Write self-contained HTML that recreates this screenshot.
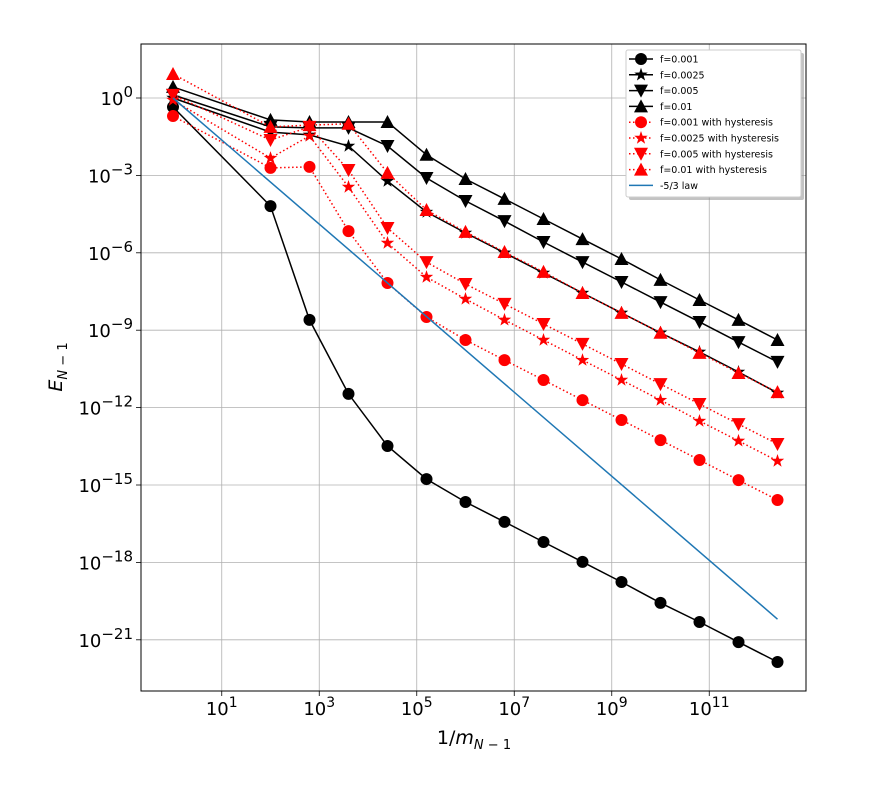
<!DOCTYPE html>
<html><head><meta charset="utf-8"><style>
html,body{margin:0;padding:0;background:#fff;}
svg{display:block;font-family:"DejaVu Sans","Liberation Sans",sans-serif;}
</style></head><body>
<svg id="chart" width="884" height="788" viewBox="0 0 884 788"></svg>
<script>
// log10 of 1/m values
const xLogs = [0, 2, 2.8, 3.6, 4.4, 5.2, 6.0, 6.8, 7.6, 8.4, 9.2, 10.0, 10.8, 11.6, 12.4];
// log10 of E values
const f001 = [-0.35, -4.19, -8.6, -11.47, -13.49, -14.77, -15.66, -16.43, -17.21, -17.98, -18.76, -19.57, -20.31, -21.09, -21.86];
const f0025 = [0, -1.32, -1.43, -1.86, -3.22, -4.42, -5.23, -6.0, -6.78, -7.56, -8.33, -9.1, -9.84, -10.62, -11.43];
const f005 = [0.12, -1.12, -1.16, -1.16, -1.86, -3.1, -3.99, -4.77, -5.58, -6.36, -7.13, -7.91, -8.68, -9.46, -10.23];
const f01 = [0.43, -0.85, -0.93, -0.93, -0.93, -2.2, -3.14, -3.91, -4.69, -5.47, -6.24, -7.05, -7.83, -8.6, -9.38];
const h001 = [-0.7, -2.71, -2.67, -5.16, -7.17, -8.49, -9.38, -10.16, -10.93, -11.71, -12.48, -13.26, -14.03, -14.81, -15.58];
const h0025 = [-0.08, -2.33, -1.47, -3.45, -5.62, -6.94, -7.79, -8.6, -9.38, -10.16, -10.93, -11.71, -12.52, -13.29, -14.07];
const h005 = [0.12, -1.63, -1.12, -2.79, -5.04, -6.36, -7.21, -7.98, -8.76, -9.53, -10.31, -11.09, -11.86, -12.64, -13.41];
const h01 = [0.93, -1.12, -1.05, -1.0, -2.9, -4.34, -5.19, -5.97, -6.74, -7.56, -8.33, -9.1, -9.88, -10.66, -11.4];
const lawX = [0, 12.4];
const lawY = [0, -20.2];
const xTicks = [1, 3, 5, 7, 9, 11];
const yTicks = [0, -3, -6, -9, -12, -15, -18, -21];

const svg = document.getElementById('chart');
const NS = 'http://www.w3.org/2000/svg';
const L = 141, R = 806, T = 44, B = 691;
const X = v => 173 + v * 48.75;
const Y = v => 98 - v * 25.8;
function mk(tag, attrs, parent) {
  const e = document.createElementNS(NS, tag);
  for (const k in attrs) e.setAttribute(k, attrs[k]);
  (parent || svg).appendChild(e);
  return e;
}
const sup = t => String(t).replace('-', '−');
// grid
xTicks.forEach(t => {
  const g = mk('line', {x1: X(t), x2: X(t), y1: T, y2: B, stroke: '#b0b0b0', 'stroke-width': 0.8});
  
  
  const tk = mk('line', {x1: X(t), x2: X(t), y1: B, y2: B + 5, stroke: '#000', 'stroke-width': 0.8});
  
  
  const tx = mk('text', {x: X(t), y: B + 24, 'font-size': 18, 'text-anchor': 'middle'});
  
  
  tx.innerHTML = '10<tspan dy="-8" font-size="14">' + sup(t) + '</tspan>';
});
yTicks.forEach(t => {
  const g = mk('line', {x1: L, x2: R, y1: Y(t), y2: Y(t), stroke: '#b0b0b0', 'stroke-width': 0.8});
  
  
  const tk = mk('line', {x1: L - 5, x2: L, y1: Y(t), y2: Y(t), stroke: '#000', 'stroke-width': 0.8});
  
  
  const tx = mk('text', {x: L - 8, y: Y(t) + 7, 'font-size': 18, 'text-anchor': 'end'});
  
  
  tx.innerHTML = '10<tspan dy="-8" font-size="15">' + sup(t) + '</tspan>';
});
const clip = mk('clipPath', {id: 'pc'});
mk('rect', {x: L, y: T, width: R - L, height: B - T}, clip);
const plot = mk('g', {'clip-path': 'url(#pc)'});



function marker(kind, x, y, color, parent) {
  let e;
  if (kind === 'o') e = mk('circle', {cx: x, cy: y, r: 6, fill: color}, parent);
  else if (kind === '^') e = mk('polygon', {points: `${x},${y-7} ${x-7},${y+6} ${x+7},${y+6}`, fill: color}, parent);
  else if (kind === 'v') e = mk('polygon', {points: `${x},${y+7} ${x-7},${y-6} ${x+7},${y-6}`, fill: color}, parent);
  else {
    let p = [];
    for (let i = 0; i < 10; i++) {
      const r = i % 2 ? 2.8 : 7, a = -Math.PI / 2 + i * Math.PI / 5;
      p.push((x + r * Math.cos(a)).toFixed(1) + ',' + (y + r * Math.sin(a)).toFixed(1));
    }
    e = mk('polygon', {points: p.join(' '), fill: color}, parent);
  }
  return e;
}
function series(name, ys, kind, color, dotted) {
  const g = mk('g', {}, plot);
  
  
  const pts = xLogs.map((x, i) => X(x).toFixed(1) + ',' + Y(ys[i]).toFixed(1)).join(' ');
  const attrs = {points: pts, fill: 'none', stroke: color, 'stroke-width': 1.5};
  if (dotted) attrs['stroke-dasharray'] = '1.5,2.5';
  mk('polyline', attrs, g);
  xLogs.forEach((x, i) => {
    const m = marker(kind, X(x), Y(ys[i]), color, g);
    
    
  });
}
series('series-f0001', f001, 'o', '#000', false);
series('series-f00025', f0025, '*', '#000', false);
series('series-f0005', f005, 'v', '#000', false);
series('series-f001', f01, '^', '#000', false);
series('series-f0001-hyst', h001, 'o', '#ff0000', true);
series('series-f00025-hyst', h0025, '*', '#ff0000', true);
series('series-f0005-hyst', h005, 'v', '#ff0000', true);
series('series-f001-hyst', h01, '^', '#ff0000', true);
const law = mk('line', {x1: X(lawX[0]), y1: Y(lawY[0]), x2: X(lawX[1]), y2: Y(lawY[1]), stroke: '#1f77b4', 'stroke-width': 1.5}, plot);



const frame = mk('rect', {x: L, y: T, width: R - L, height: B - T, fill: 'none', stroke: '#000', 'stroke-width': 1});



const xl = mk('text', {x: 474, y: 744, 'font-size': 19, 'text-anchor': 'middle'});


xl.innerHTML = '1/<tspan font-style="italic">m</tspan><tspan dy="5" font-size="13" font-style="italic">N</tspan><tspan font-size="13"> − 1</tspan>';
const yl = mk('text', {x: 0, y: 0, 'font-size': 19, 'text-anchor': 'middle', transform: 'translate(62,367) rotate(-90)'});


yl.innerHTML = '<tspan font-style="italic">E</tspan><tspan dy="5" font-size="13" font-style="italic">N</tspan><tspan font-size="13"> − 1</tspan>';

// legend
const lg = mk('g', {});


mk('rect', {x: 629, y: 53, width: 175, height: 147, fill: '#888', opacity: 0.5, rx: 2}, lg);
mk('rect', {x: 626, y: 50, width: 175, height: 147, fill: '#fff', stroke: '#ccc', 'stroke-width': 1, rx: 2}, lg);
const legNames = ['f=0.001', 'f=0.0025', 'f=0.005', 'f=0.01', 'f=0.001 with hysteresis', 'f=0.0025 with hysteresis', 'f=0.005 with hysteresis', 'f=0.01 with hysteresis', '-5/3 law'];
const legKinds = ['o', '*', 'v', '^', 'o', '*', 'v', '^', ''];
legNames.forEach((n, i) => {
  const y = 59 + i * 15.8;
  const e = mk('g', {}, lg);
  
  
  const red = i >= 4 && i < 8, blue = i === 8;
  const c = blue ? '#1f77b4' : (red ? '#ff0000' : '#000');
  const a = {x1: 629, x2: 653, y1: y, y2: y, stroke: c, 'stroke-width': 1.5};
  if (red) a['stroke-dasharray'] = '1.5,2.5';
  mk('line', a, e);
  if (legKinds[i]) marker(legKinds[i], 641, y, c, e);
  const t = mk('text', {x: 660, y: y + 3.5, 'font-size': 9.5}, e);
  t.textContent = n;
});
</script>
</body></html>
